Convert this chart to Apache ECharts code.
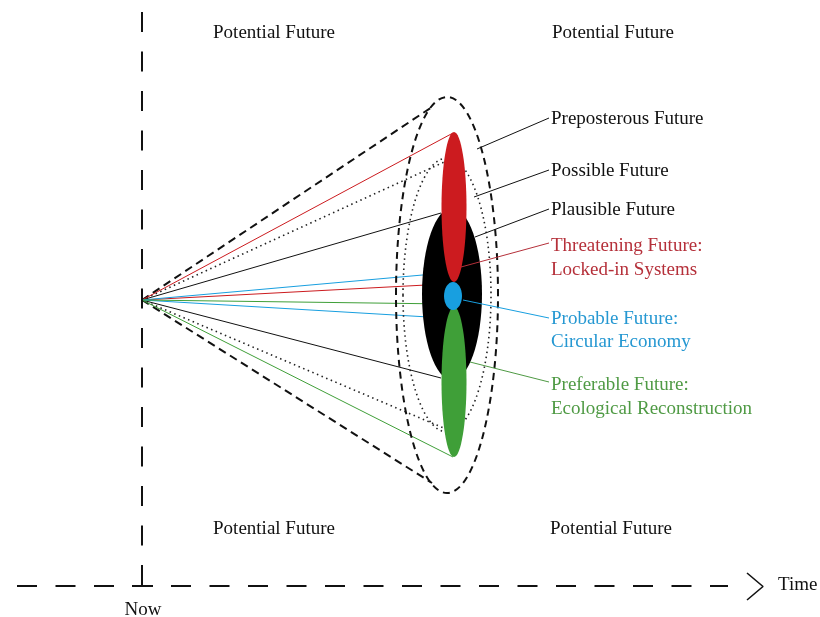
<!DOCTYPE html>
<html><head><meta charset="utf-8">
<script src="https://cdn.jsdelivr.net/npm/echarts@6/dist/echarts.min.js"></script>
<style>html,body{margin:0;padding:0;background:#fff}#c{width:820px;height:617px}</style>
</head><body><div id="c"></div>
<script>
// ---- Diagram data (diagram units = pixel-like coordinates, y downward) ----
const apex = [142, 300];
// cone end points [upper, lower]
const preposterousCone = [[432, 107], [432, 483]];
const possibleCone = [[453, 158], [453, 432]];
const plausibleCone = [[441, 213], [441, 378]];
const threateningCone = [[453, 133], [445, 284]];
const probableCone = [[445, 273], [445, 318]];
const preferableCone = [[448, 304], [453, 457]];
// ellipses [cx, cy, rx, ry]
const preposterousEllipse = [447, 295, 51, 198];
const possibleEllipse = [447, 295, 44, 137];
const plausibleEllipse = [452, 294, 30, 86];
const threateningEllipse = [454, 207, 12.5, 75];
const preferableEllipse = [454, 382, 12.5, 75];
const probableEllipse = [453, 296, 9, 14];
// leader lines [from, to]
const leaderLines = [
  [[477, 149], [549, 118]],
  [[474, 197], [549, 170]],
  [[475, 237], [549, 209]],
  [[461, 267], [549, 243]],
  [[463, 300], [549, 318]],
  [[470, 362], [549, 382]]
];
// labels
const futureLabels = ['Preposterous Future', 'Possible Future', 'Plausible Future',
  'Threatening Future:', 'Locked-in Systems', 'Probable Future:', 'Circular Economy',
  'Preferable Future:', 'Ecological Reconstruction'];
const potentialLabel = 'Potential Future';
const timeLabel = 'Time';
const nowLabel = 'Now';
// timeline
const nowLine = [[142, 12], [142, 586]];
const nowTick = [[132, 586], [153, 586]];
const timeLine = [[17, 586], [728, 586]];
const timeArrow = [[747, 573], [763, 586.5], [747, 600]];

// ---- layout / style constants ----
const RED = '#cc1b1f', GREEN = '#3f9f38', BLUE = '#189fe0';
const RED_T = '#b5303a', GREEN_T = '#4f9a44', BLUE_T = '#2698d2';
const FONT = '"Liberation Serif", "DejaVu Serif", serif';
const FS = 19;
const labelPos = [[551,119],[551,171],[551,210],[551,246],[551,270],[551,319],[551,342],[551,385],[551,409]];
const labelColors = ['#111','#111','#111',RED_T,RED_T,BLUE_T,BLUE_T,GREEN_T,GREEN_T];
const potentialPos = [[274,33],[613,33],[274,529],[611,529]];

const series = [];
function seg(points, color, width, dash, z) {
  series.push({
    type: 'line', data: points, symbol: 'none', silent: true, animation: false, z: z || 3,
    lineStyle: { color: color, width: width, type: dash || 'solid', cap: 'butt' }
  });
}
function ellipse(e, fill, stroke, width, dash, z) {
  series.push({
    type: 'custom', coordinateSystem: 'cartesian2d', data: [e], silent: true, animation: false, z: z,
    renderItem: function (p, api) {
      const c = api.coord([api.value(0), api.value(1)]);
      const s = api.size([api.value(2), api.value(3)]);
      return { type: 'ellipse', shape: { cx: c[0], cy: c[1], rx: s[0], ry: s[1] },
        style: { fill: fill, stroke: stroke, lineWidth: width, lineDash: dash } };
    }
  });
}
function texts(items, z) {
  series.push({
    type: 'custom', coordinateSystem: 'cartesian2d', data: items, silent: true, animation: false, z: z || 5,
    renderItem: function (p, api) {
      const it = items[p.dataIndex];
      const c = api.coord([it[0], it[1]]);
      return { type: 'text', x: c[0], y: c[1],
        style: { text: it[2], fill: it[3], font: it[5] + 'px ' + FONT, align: it[4], verticalAlign: 'middle' } };
    }
  });
}

// timeline
seg(nowLine, '#111', 2, [20, 19.5]);
seg(nowTick, '#111', 2);
seg(timeLine, '#111', 2, [20, 18.5]);
seg(timeArrow, '#111', 1.6);

// ellipses
ellipse(preposterousEllipse, 'none', '#111', 2, [7, 5], 2);
ellipse(possibleEllipse, 'none', '#222', 1.6, [1.5, 3.5], 2);
ellipse(plausibleEllipse, '#000', null, 0, null, 2);
ellipse(threateningEllipse, RED, null, 0, null, 3);
ellipse(preferableEllipse, GREEN, null, 0, null, 3);
ellipse(probableEllipse, BLUE, null, 0, null, 4);

// cones
preposterousCone.forEach(e => seg([apex, e], '#111', 2, [8, 5], 1));
possibleCone.forEach(e => seg([apex, e], '#222', 1.6, [1.5, 3.5], 1));
plausibleCone.forEach(e => seg([apex, e], '#111', 1, 'solid', 1));
threateningCone.forEach(e => seg([apex, e], RED, 1, 'solid', 1));
probableCone.forEach(e => seg([apex, e], BLUE, 1, 'solid', 1));
preferableCone.forEach(e => seg([apex, e], GREEN, 1, 'solid', 1));

// leaders
const leaderColors = ['#111', '#111', '#111', RED_T, BLUE, GREEN_T];
leaderLines.forEach((l, i) => seg(l, leaderColors[i], 1, 'solid', 6));

// texts
const items = futureLabels.map((t, i) => [labelPos[i][0], labelPos[i][1], t, labelColors[i], 'left', FS]);
potentialPos.forEach(p => items.push([p[0], p[1], potentialLabel, '#111', 'center', FS]));
items.push([778, 585, timeLabel, '#111', 'left', FS]);
items.push([143, 610, nowLabel, '#111', 'center', FS]);
texts(items, 7);

const chart = echarts.init(document.getElementById('c'), null, { renderer: 'canvas' });
chart.setOption({
  animation: false,
  backgroundColor: '#fff',
  grid: { left: 0, right: 0, top: 0, bottom: 0 },
  xAxis: { type: 'value', min: 0, max: 820, show: false },
  yAxis: { type: 'value', min: 0, max: 617, inverse: true, show: false },
  series: series
});
</script></body></html>
